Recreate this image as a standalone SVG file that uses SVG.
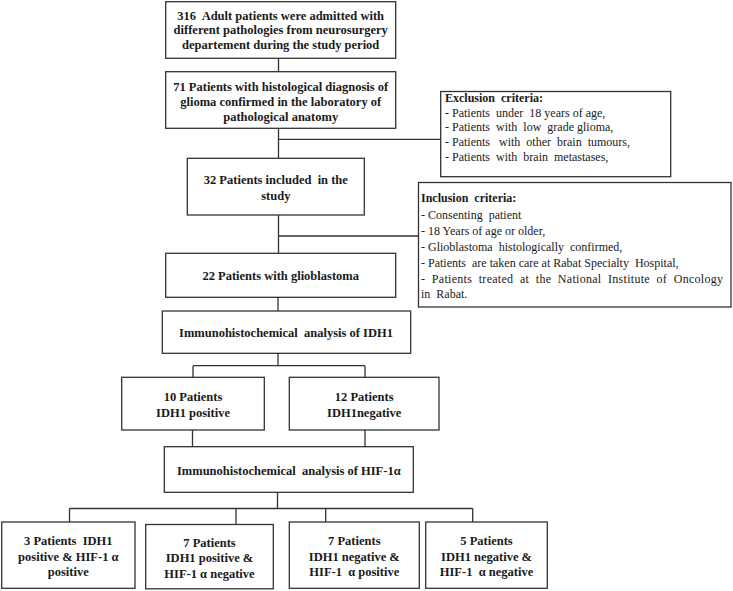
<svg xmlns="http://www.w3.org/2000/svg" width="733" height="591" viewBox="0 0 733 591">
<style>
.box{fill:#fff;stroke:#333;stroke-width:1.3}
.t{font-family:"Liberation Serif","Times New Roman","DejaVu Serif",serif;font-weight:bold;font-size:12.5px;fill:#1a1a1a;text-anchor:middle;white-space:pre}
.c{font-family:"Liberation Serif","Times New Roman","DejaVu Serif",serif;font-size:12px;fill:#1a1a1a;white-space:pre}
.cb{font-weight:bold}
.ln{fill:none;stroke:#333;stroke-width:1.3}
</style>
<rect width="733" height="591" fill="#fff"/>
<g id="connectors">
<path class="ln" d="M278.5 58.3V71.7M278.5 128.3V158.3M278.5 215V253.3M278.5 139.3H440.7M278.5 236H418.5"/>
<path class="ln" d="M278 297.3V311M278 353.3V365.7M193 365.7H365M193 365.7V377.3M365 365.7V377.3"/>
<path class="ln" d="M192.5 430V446.7M365 430V446.7M277.5 492.3V508.5M69.5 508.5H472.7M69.5 508.5V522M236 508.5V525M325.7 508.5V522M472.7 508.5V522"/>
</g>
<g id="n1"><rect class="box" x="165.7" y="1.7" width="230" height="56.6"/>
<text class="t" x="280.7" y="19.5" xml:space="preserve">316  Adult patients were admitted with</text>
<text class="t" x="280.7" y="34">different pathologies from neurosurgery</text>
<text class="t" x="280.7" y="48.5">departement during the study period</text></g>
<g id="n2"><rect class="box" x="165.7" y="71.7" width="230" height="56.6"/>
<text class="t" x="280.7" y="90.5">71 Patients with histological diagnosis of</text>
<text class="t" x="280.7" y="105.5">glioma confirmed in the laboratory of</text>
<text class="t" x="280.7" y="120.5">pathological anatomy</text></g>
<g id="exclusion"><rect class="box" x="440.7" y="91.5" width="230" height="85.2"/>
<text class="c cb" x="445" y="101.5">Exclusion  criteria:</text>
<text class="c" x="445" y="116.5">- Patients  under  18 years of age,</text>
<text class="c" x="445" y="131.3">- Patients  with  low  grade glioma,</text>
<text class="c" x="445" y="146.2">- Patients   with  other  brain  tumours,</text>
<text class="c" x="445" y="161.2">- Patients  with  brain  metastases,</text></g>
<g id="n3"><rect class="box" x="187.3" y="158.3" width="177" height="56.7"/>
<text class="t" x="275.8" y="184" xml:space="preserve">32 Patients included  in the</text>
<text class="t" x="275.8" y="199.5">study</text></g>
<g id="inclusion"><rect class="box" x="418.5" y="182.5" width="312.5" height="124.5"/>
<text class="c cb" x="421" y="202">Inclusion  criteria:</text>
<text class="c" x="421" y="218.5">- Consenting  patient</text>
<text class="c" x="421" y="234.8">- 18 Years of age or older,</text>
<text class="c" x="421" y="250.8">- Glioblastoma  histologically  confirmed,</text>
<text class="c" x="421" y="266.8">- Patients  are taken care at Rabat Specialty  Hospital,</text>
<text class="c" x="421" y="282.5" textLength="302" lengthAdjust="spacing">-  Patients  treated  at  the  National  Institute  of  Oncology</text>
<text class="c" x="421" y="298.3">in  Rabat.</text></g>
<g id="n4"><rect class="box" x="165.7" y="253.3" width="230" height="44"/>
<text class="t" x="280.7" y="279.5">22 Patients with glioblastoma</text></g>
<g id="n5"><rect class="box" x="162.3" y="311" width="248.4" height="42.3"/>
<text class="t" x="286" y="336.8" xml:space="preserve">Immunohistochemical  analysis of IDH1</text></g>
<g id="n6"><rect class="box" x="121.7" y="377.3" width="142.6" height="52.7"/>
<text class="t" x="193" y="401">10 Patients</text>
<text class="t" x="193" y="417">IDH1 positive</text></g>
<g id="n7"><rect class="box" x="289.3" y="377.3" width="149.7" height="52.7"/>
<text class="t" x="364.2" y="401">12 Patients</text>
<text class="t" x="364.2" y="417">IDH1negative</text></g>
<g id="n8"><rect class="box" x="164.3" y="446.7" width="249" height="45.6"/>
<text class="t" x="288.8" y="474.5" xml:space="preserve">Immunohistochemical  analysis of HIF-1α</text></g>
<g id="n9"><rect class="box" x="1.7" y="522" width="133.3" height="66.3"/>
<text class="t" x="68.3" y="545" xml:space="preserve">3 Patients  IDH1</text>
<text class="t" x="68.3" y="560.5">positive &amp; HIF-1 α</text>
<text class="t" x="68.3" y="576">positive</text></g>
<g id="n10"><rect class="box" x="145.7" y="524.5" width="127.6" height="64.3"/>
<text class="t" x="209.5" y="546.5">7 Patients</text>
<text class="t" x="209.5" y="562">IDH1 positive &amp;</text>
<text class="t" x="209.5" y="577.5">HIF-1 α negative</text></g>
<g id="n11"><rect class="box" x="289.3" y="522" width="130" height="66.3"/>
<text class="t" x="354.3" y="545">7 Patients</text>
<text class="t" x="354.3" y="560.5">IDH1 negative &amp;</text>
<text class="t" x="354.3" y="576" xml:space="preserve">HIF-1  α positive</text></g>
<g id="n12"><rect class="box" x="425.7" y="522" width="121.6" height="66.3"/>
<text class="t" x="486.5" y="545">5 Patients</text>
<text class="t" x="486.5" y="560.5">IDH1 negative &amp;</text>
<text class="t" x="486.5" y="576" xml:space="preserve">HIF-1  α negative</text></g>
</svg>
